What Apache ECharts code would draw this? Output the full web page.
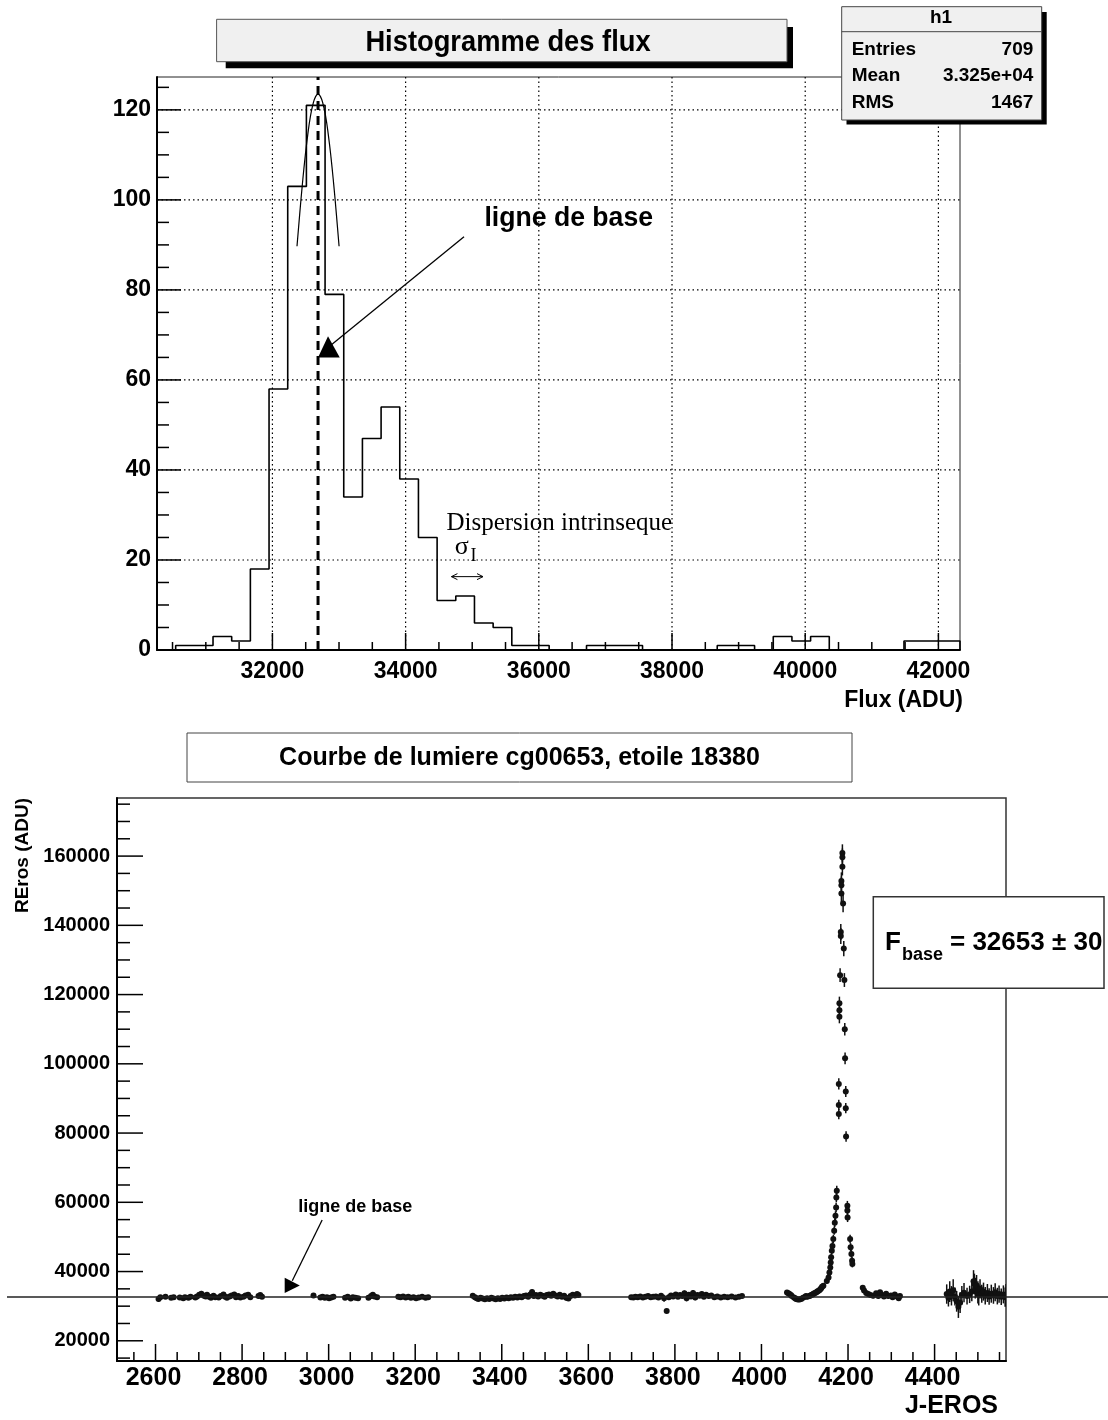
<!DOCTYPE html>
<html>
<head>
<meta charset="utf-8">
<script src="https://cdn.jsdelivr.net/npm/echarts@6/dist/echarts.min.js"></script>
<style>
html,body{margin:0;padding:0;background:#fff;}
#c{width:1108px;height:1420px;}
</style>
</head>
<body>
<div id="c"></div>
<script>
// ---------------- DATA ----------------
// Histogram of fluxes (h1)
const histStart = 30267;
const histBinWidth = 280.4;
const histCounts = [0,1,1,3,2,18,58,103,121,79,34,47,54,38,25,11,12,6,5,1,1,0,0,1,1,1,0,0,0,0,1,1,0,3,2,3,0,0,0,0,2,2,2];
const histYMax = 127.3;
const histStats = { name: 'h1', entries: '709', mean: '3.325e+04', rms: '1467' };
// gaussian fit curve
const fitX = [32369, 32410, 32450, 32490, 32530, 32570, 32610, 32650, 32685, 32720, 32760, 32800, 32840, 32880, 32920, 32960, 33001];
const fitY = [89.7, 96.9, 103.5, 109.4, 114.4, 118.5, 121.3, 123.0, 123.5, 123.0, 121.3, 118.5, 114.4, 109.4, 103.5, 96.9, 89.7];
const baseLineFlux = 32685;

const histXMajor = [32000, 34000, 36000, 38000, 40000, 42000];
const histYMajor = [0, 20, 40, 60, 80, 100, 120];

// Light curve: [J-EROS day, flux (ADU), error]
const lcSeason1 = [[2607,32100,900],[2611,32600,600],[2623,32700,500],[2636,32400,500],[2642,32600,600],[2656,32500,500],[2664,32300,600],[2668,32600,500],[2676,32400,500],[2681,32700,600],[2692,32500,500],[2696,32800,600],[2701,33300,700],[2706,33600,800],[2712,33000,700],[2716,32800,600],[2719,33300,700],[2724,32700,600],[2728,32400,600],[2734,33000,700],[2738,32600,600],[2746,32500,600],[2751,32900,600],[2757,33400,700],[2761,32700,600],[2765,32400,600],[2771,32800,600],[2776,33100,700],[2782,33400,700],[2786,32600,600],[2791,32900,600],[2796,32500,600],[2803,32700,600],[2808,33100,600],[2814,33300,700],[2819,32600,600],[2838,32900,600],[2842,33200,600],[2846,32700,600]];
const lcSeason2 = [[2965,33100,600],[2981,32500,600],[2986,32700,500],[2991,32400,500],[2996,32600,600],[3001,32300,500],[3006,32500,500],[3011,32700,600],[3038,32400,500],[3044,32700,600],[3051,32200,600],[3056,32600,500],[3062,32400,600],[3068,32300,500],[3092,32400,600],[3098,32900,600],[3102,33300,700],[3106,32800,600],[3112,32600,600]];
const lcSeason3 = [[3161,32700,500],[3166,32600,500],[3172,32800,500],[3178,32500,500],[3184,32700,600],[3190,32400,500],[3196,32600,500],[3202,32300,600],[3208,32500,500],[3216,32700,600],[3224,32400,500],[3230,32600,600]];
const lcSeason4 = [[3333,33000,600],[3338,32600,500],[3342,32300,600],[3346,32100,600],[3351,32400,500],[3356,32200,600],[3361,32000,600],[3366,32300,500],[3371,32100,600],[3376,32400,500],[3381,32200,600],[3386,32000,500],[3391,32300,600],[3396,32100,500],[3401,32400,600],[3406,32200,500],[3411,32500,600],[3416,32300,500],[3421,32600,600],[3426,32400,500],[3431,32700,600],[3436,32500,500],[3441,32800,600],[3446,32600,500],[3451,32900,600],[3456,33100,600],[3461,32700,500],[3466,33400,700],[3470,34100,700],[3474,32900,600],[3479,33200,600],[3484,32800,500],[3489,33300,600],[3494,33000,600],[3499,32700,500],[3504,33200,600],[3509,33400,600],[3514,33000,500],[3519,33600,700],[3524,33100,600],[3529,32800,600],[3534,33300,600],[3539,32700,600],[3544,33000,600],[3549,32400,800],[3554,32200,600],[3559,32900,600],[3564,33300,600],[3569,33100,600],[3574,33500,600],[3577,33200,600]];
const lcSeason5 = [[3699,32600,500],[3704,32500,500],[3709,32700,500],[3714,32600,500],[3720,32800,500],[3726,32500,500],[3732,32700,500],[3738,32900,600],[3744,32600,500],[3750,32700,500],[3756,32800,600],[3762,32500,500],[3768,33000,600],[3775,32300,1000],[3781,28600,600],[3786,32600,600],[3791,33100,600],[3796,32800,600],[3802,33400,700],[3807,32700,600],[3812,33200,700],[3817,32900,600],[3822,33700,800],[3827,32300,900],[3832,33300,700],[3837,32800,600],[3842,33800,900],[3847,32500,800],[3852,33200,700],[3857,33000,600],[3862,33500,700],[3867,32700,600],[3872,33300,600],[3878,32900,600],[3884,33100,600],[3891,32600,600],[3898,32800,600],[3906,32500,500],[3914,32700,500],[3922,32600,500],[3931,32800,500],[3940,32500,500],[3948,32700,500],[3955,32900,500]];
const lcSeason6 = [[4059,33950,700],[4062,33700,700],[4065,33500,700],[4068,33200,700],[4070,32900,700],[4075,32500,700],[4078,32300,700],[4080,32100,700],[4084,31900,700],[4088,31900,700],[4092,32100,700],[4096,32400,700],[4101,32700,700],[4103,32900,700],[4106,32700,700],[4111,32900,700],[4113,33100,700],[4116,33300,700],[4118,33400,700],[4120,33500,700],[4122,33700,700],[4125,33900,700],[4127,34000,700],[4129,34200,700],[4131,34400,700],[4134,34600,700],[4136,34900,700],[4138,35200,700],[4140,35600,700],[4143,35900,800],[4151,37300,800],[4155,38300,900],[4157,39700,900],[4159,41200,1000],[4160,42600,1000],[4161,44100,1000],[4162.5,46000,1100],[4164,47400,1100],[4166,49400,1200],[4168,51800,1200],[4169.4,54100,1300],[4171,56100,1300],[4172.5,58500,1400],[4173,61400,1400],[4174,63300,1500],[4187,160900,2500],[4187,159700,2500],[4187,156900,2500],[4184.7,152800,2500],[4184.7,151600,2500],[4184.7,149200,2500],[4188.6,146300,2500],[4183.3,138100,2300],[4183.3,136900,2300],[4190.2,133300,2200],[4181.7,125600,2000],[4191.6,124200,2000],[4180.1,117500,1900],[4180.1,115500,1900],[4180.1,113600,1900],[4192.5,110000,1800],[4193.2,101600,1700],[4178.7,94200,1600],[4194.8,92000,1600],[4178.7,88100,1500],[4178.7,85500,1500],[4194.8,87200,1500],[4195.5,79000,1500],[4198.5,59000,1400],[4198.5,57600,1400],[4199,55600,1300],[4204.8,49400,1200],[4206,47000,1200],[4207.8,45100,1100],[4209.4,43100,1100],[4210,42200,1000],[4234,35300,800],[4237,34500,700],[4242,33800,700],[4247,33500,700],[4252,33200,700],[4258,33000,700],[4265,33700,700],[4270,32900,700],[4274,34000,700],[4279,33200,700],[4283,32800,700],[4288,33600,700],[4293,32900,700],[4299,33100,700],[4303,32600,700],[4308,33400,700],[4313,32800,700],[4317,32300,700],[4320,32900,700]];
const lcSeason7 = [[4428,33500,2800],[4432,32400,2500],[4435,34200,3000],[4439,33000,2800],[4443,34600,3200],[4447,32800,2600],[4451,31400,3000],[4455,29800,3200],[4459,31000,3000],[4463,33200,2600],[4468,33900,2800],[4475,32900,2400],[4481,33400,2500],[4486,34200,2800],[4490,37200,3200],[4492,36400,3000],[4494,35200,3000],[4497,36000,3000],[4500,34000,3200],[4502,33200,3000],[4505,35000,2800],[4509,33600,2600],[4513,34200,2600],[4517,33000,2500],[4522,33800,2600],[4526,32800,2400],[4531,33600,2600],[4536,33100,2400],[4540,34000,2600],[4545,32900,2400],[4549,33500,2500],[4554,32700,2400],[4559,33400,2600],[4563,32600,2800],[4565,33200,3200]];
const fBase = { value: 32653, error: 30 };

const lcXMajor = [2600, 2800, 3000, 3200, 3400, 3600, 3800, 4000, 4200, 4400];
const lcYMajor = [20000, 40000, 60000, 80000, 100000, 120000, 140000, 160000];

// ---------------- LAYOUT ----------------
const FONT = "'Liberation Sans', Arial, Helvetica, sans-serif";
const SERIF = "'Liberation Serif', 'Times New Roman', serif";
const G0 = { left: 157, top: 77, width: 803, height: 573 };
const G1 = { left: 117, top: 798, width: 889, height: 563 };
const X0 = { min: histStart, max: histStart + histCounts.length * histBinWidth };
const Y0 = { min: 0, max: histYMax };
const X1 = { min: 2511, max: 4565 };
const Y1 = { min: 14160, max: 176780 };

// minor tick positions
const histXMinor = [], histYMinor = [], lcXMinor = [], lcYMinor = [];
for (let v = 30500; v <= X0.max; v += 500) if (v % 2000) histXMinor.push(v);
for (let v = 5; v <= Y0.max; v += 5) if (v % 20) histYMinor.push(v);
for (let v = 2550; v <= X1.max; v += 50) if (v % 200) lcXMinor.push(v);
for (let v = 15000; v <= Y1.max; v += 5000) if (v % 20000) lcYMinor.push(v);

// histogram outline points
const histLine = [[X0.min, 0]];
histCounts.forEach((c, i) => {
  const lo = histStart + i * histBinWidth, hi = lo + histBinWidth;
  histLine.push([lo, c], [hi, c]);
});
histLine.push([X0.max, 0]);

const lightCurve = [].concat(lcSeason1, lcSeason2, lcSeason3, lcSeason4, lcSeason5, lcSeason6, lcSeason7);

function txtStyle(text, font, align, valign, fill) {
  return { text: text, font: font, fill: fill || '#000', align: align, textAlign: align,
           verticalAlign: valign, textVerticalAlign: valign };
}

function tickSeries(gi, dim, values, o) {
  const xr = gi === 0 ? X0 : X1, yr = gi === 0 ? Y0 : Y1;
  return {
    type: 'custom', xAxisIndex: gi, yAxisIndex: gi, clip: false, silent: true, z: o.z || 6,
    animation: false,
    data: values.map(v => dim === 'x' ? [v, yr.min] : [xr.min, v]),
    renderItem: function (params, api) {
      const children = [];
      if (dim === 'x') {
        const v = api.value(0);
        const p = api.coord([v, yr.min]);
        const t = api.coord([v, yr.max]);
        if (o.grid) children.push({ type: 'line', shape: { x1: p[0], y1: p[1], x2: p[0], y2: t[1] },
          style: { stroke: '#000', lineWidth: 1.2, lineDash: [1.5, 3] } });
        children.push({ type: 'line', shape: { x1: p[0], y1: p[1], x2: p[0], y2: p[1] - o.len },
          style: { stroke: '#000', lineWidth: 1.5 } });
        if (o.font) children.push({ type: 'text', x: p[0] + (o.dx || 0), y: p[1] + o.gap, scaleX: o.sx || 1,
          style: txtStyle(String(v), o.font, 'center', 'middle') });
      } else {
        const v = api.value(1);
        const p = api.coord([xr.min, v]);
        const r = api.coord([xr.max, v]);
        if (o.grid) children.push({ type: 'line', shape: { x1: p[0], y1: p[1], x2: r[0], y2: p[1] },
          style: { stroke: '#000', lineWidth: 1.2, lineDash: [1.5, 3] } });
        children.push({ type: 'line', shape: { x1: p[0], y1: p[1], x2: p[0] + o.len, y2: p[1] },
          style: { stroke: '#000', lineWidth: 1.5 } });
        if (o.font) children.push({ type: 'text', x: p[0] - o.gap, y: p[1], scaleX: o.sx || 1,
          style: txtStyle(String(v), o.font, 'right', 'middle') });
      }
      return { type: 'group', children: children };
    }
  };
}

function axis(gi, r) {
  return {
    gridIndex: gi, type: 'value', min: r.min, max: r.max,
    axisLine: { show: true, onZero: false, lineStyle: { color: '#000', width: 2 } },
    axisTick: { show: false }, axisLabel: { show: false }, splitLine: { show: false }
  };
}

const chart = echarts.init(document.getElementById('c'), null, { renderer: 'canvas', width: 1108, height: 1420 });

const option = {
  backgroundColor: '#fff',
  animation: false,
  grid: [
    Object.assign({ show: true, borderColor: '#222', borderWidth: 1, containLabel: false }, G0),
    Object.assign({ show: true, borderColor: '#333', borderWidth: 1.5, containLabel: false }, G1)
  ],
  xAxis: [axis(0, X0), axis(1, X1)],
  yAxis: [axis(0, Y0), axis(1, Y1)],
  series: [
    tickSeries(0, 'x', histXMajor, { len: 17, grid: true, font: 'bold 23px ' + FONT, gap: 22 }),
    tickSeries(0, 'x', histXMinor, { len: 8 }),
    tickSeries(0, 'y', histYMajor, { len: 24, grid: true, font: 'bold 23px ' + FONT, gap: 6 }),
    tickSeries(0, 'y', histYMinor, { len: 12 }),
    {
      type: 'line', xAxisIndex: 0, yAxisIndex: 0, data: histLine, showSymbol: false, z: 8,
      lineStyle: { color: '#000', width: 1.6 }, silent: true
    },
    {
      type: 'line', xAxisIndex: 0, yAxisIndex: 0, data: fitX.map((x, i) => [x, fitY[i]]), smooth: true,
      showSymbol: false, z: 9, lineStyle: { color: '#000', width: 1.2 }, silent: true
    },
    {
      type: 'line', xAxisIndex: 0, yAxisIndex: 0, data: [[baseLineFlux, Y0.min], [baseLineFlux, Y0.max]],
      showSymbol: false, z: 9, lineStyle: { color: '#000', width: 3, type: [9, 6] }, silent: true
    },
    tickSeries(1, 'x', lcXMajor, { len: 17, font: 'bold 25px ' + FONT, gap: 17, dx: -2 }),
    tickSeries(1, 'x', lcXMinor, { len: 9 }),
    tickSeries(1, 'y', lcYMajor, { len: 26, font: 'bold 20px ' + FONT, gap: 7 }),
    tickSeries(1, 'y', lcYMinor, { len: 13 }),
    {
      type: 'custom', xAxisIndex: 1, yAxisIndex: 1, z: 10, clip: true, silent: true,
      data: lightCurve,
      renderItem: function (params, api) {
        const x = api.value(0), y = api.value(1), e = api.value(2);
        const p = api.coord([x, y]);
        const lo = api.coord([x, y - e]);
        const hi = api.coord([x, y + e]);
        return { type: 'group', children: [
          { type: 'line', shape: { x1: p[0], y1: lo[1], x2: p[0], y2: hi[1] }, style: { stroke: '#111', lineWidth: 1.5 } },
          { type: 'circle', shape: { cx: p[0], cy: p[1], r: 3 }, style: { fill: '#111' } }
        ] };
      }
    }
  ]
};
chart.setOption(option);

// ---------------- ANNOTATIONS ----------------
const P0 = (x, y) => chart.convertToPixel({ gridIndex: 0 }, [x, y]);
const P1 = (x, y) => chart.convertToPixel({ gridIndex: 1 }, [x, y]);

const g = [];
function T(x, y, text, font, align, valign, extra) {
  g.push(Object.assign({ type: 'text', x: x, y: y, z: 120, style: txtStyle(text, font, align, valign) }, extra || {}));
}
// text placed by its baseline (size in px)
function TB(x, baseY, text, weight, size, family, align, extra) {
  T(x, baseY - 0.34 * size, text, (weight ? weight + ' ' : '') + size + 'px ' + family, align, 'middle', extra);
}
// Top title box with shadow
g.push({ type: 'rect', z: 100, shape: { x: 225.7, y: 27, width: 567.3, height: 41.3 }, style: { fill: '#000' } });
g.push({ type: 'rect', z: 101, shape: { x: 216.6, y: 19.3, width: 570.4, height: 42.4 }, style: { fill: '#f0f0f0', stroke: '#555', lineWidth: 1 } });
T(508, 42.5, 'Histogramme des flux', 'bold 30px ' + FONT, 'center', 'middle', { scaleX: 0.91 });

// Stats box
g.push({ type: 'rect', z: 100, shape: { x: 846.5, y: 12, width: 200.2, height: 112.5 }, style: { fill: '#000' } });
g.push({ type: 'rect', z: 101, shape: { x: 841.7, y: 6.7, width: 200, height: 113.3 }, style: { fill: '#f0f0f0', stroke: '#444', lineWidth: 1 } });
g.push({ type: 'line', z: 102, shape: { x1: 841.7, y1: 31.7, x2: 1041.7, y2: 31.7 }, style: { stroke: '#444', lineWidth: 1 } });
const SF = 'bold 19px ' + FONT;
T(941, 18, histStats.name, SF, 'center', 'middle');
T(851.7, 49.3, 'Entries', SF, 'left', 'middle');
T(1033.3, 49.3, histStats.entries, SF, 'right', 'middle');
T(851.7, 75.8, 'Mean', SF, 'left', 'middle');
T(1033.3, 75.8, histStats.mean, SF, 'right', 'middle');
T(851.7, 102.5, 'RMS', SF, 'left', 'middle');
T(1033.3, 102.5, histStats.rms, SF, 'right', 'middle');

// axis title top
T(963, 701, 'Flux (ADU)', 'bold 23px ' + FONT, 'right', 'middle');

// "ligne de base" arrow (top)
let a = P0(36449, 96);
T(a[0], a[1], 'ligne de base', 'bold 28px ' + FONT, 'center', 'middle', { scaleX: 0.95 });
let s = P0(34877, 91.8), e = P0(32886, 67.8);
g.push({ type: 'line', z: 110, shape: { x1: s[0], y1: s[1], x2: e[0], y2: e[1] }, style: { stroke: '#000', lineWidth: 1.3 } });
let t1 = P0(32835, 69.7), t2 = P0(32685, 65.0), t3 = P0(33011, 65.0);
g.push({ type: 'polygon', z: 110, shape: { points: [t1, t2, t3] }, style: { fill: '#000' } });

// Dispersion intrinseque
a = P0(34613, 26.3);
TB(a[0], a[1], 'Dispersion intrinseque', '', 25, SERIF, 'left');
a = P0(34737, 20.9);
TB(a[0], a[1], 'σ', '', 26, SERIF, 'left');
a = P0(34975, 19.4);
TB(a[0], a[1], 'I', '', 18, SERIF, 'left');
s = P0(34688, 16.3); e = P0(35162, 16.3);
g.push({ type: 'line', z: 110, shape: { x1: s[0], y1: s[1], x2: e[0], y2: e[1] }, style: { stroke: '#000', lineWidth: 1 } });
g.push({ type: 'polyline', z: 110, shape: { points: [[s[0] + 6, s[1] - 3], [s[0], s[1]], [s[0] + 6, s[1] + 3]] }, style: { stroke: '#000', lineWidth: 1, fill: null } });
g.push({ type: 'polyline', z: 110, shape: { points: [[e[0] - 6, e[1] - 3], [e[0], e[1]], [e[0] - 6, e[1] + 3]] }, style: { stroke: '#000', lineWidth: 1, fill: null } });

// Bottom title box
g.push({ type: 'rect', z: 101, shape: { x: 187, y: 733, width: 665, height: 49 }, style: { fill: '#fff', stroke: '#444', lineWidth: 1 } });
T(519.5, 758, 'Courbe de lumiere cg00653, etoile 18380', 'bold 25px ' + FONT, 'center', 'middle');

// Bottom axis titles
T(998, 1406.5, 'J-EROS', 'bold 25px ' + FONT, 'right', 'middle');
g.push({ type: 'text', x: 23, y: 798, rotation: Math.PI / 2, z: 120, style: txtStyle('REros (ADU)', 'bold 19px ' + FONT, 'right', 'middle') });

// Baseline horizontal line across the pad
const by = P1(X1.min, fBase.value)[1];
g.push({ type: 'line', z: 105, shape: { x1: 7, y1: by, x2: 1108, y2: by }, style: { stroke: '#222', lineWidth: 1.3 } });

// bottom "ligne de base"
a = P1(3061.6, 58700);
T(a[0], a[1], 'ligne de base', 'bold 18px ' + FONT, 'center', 'middle');
s = P1(2985, 54900); e = P1(2916, 37330);
g.push({ type: 'line', z: 110, shape: { x1: s[0], y1: s[1], x2: e[0], y2: e[1] }, style: { stroke: '#000', lineWidth: 1.3 } });
t1 = P1(2898.5, 38200); t2 = P1(2898.5, 33790); t3 = P1(2933.4, 35980);
g.push({ type: 'polygon', z: 110, shape: { points: [t1, t2, t3] }, style: { fill: '#000' } });

// F_base box
g.push({ type: 'rect', z: 115, shape: { x: 873.3, y: 896.7, width: 230.7, height: 91.6 }, style: { fill: '#fff', stroke: '#333', lineWidth: 1.5 } });
TB(885, 951.7, 'F', 'bold', 26, FONT, 'left');
TB(902, 961.5, 'base', 'bold', 18, FONT, 'left');
TB(950, 951.7, '= ' + fBase.value + ' \u00b1 ' + fBase.error, 'bold', 26, FONT, 'left');

chart.setOption({ graphic: { elements: g } });
</script>
</body>
</html>
